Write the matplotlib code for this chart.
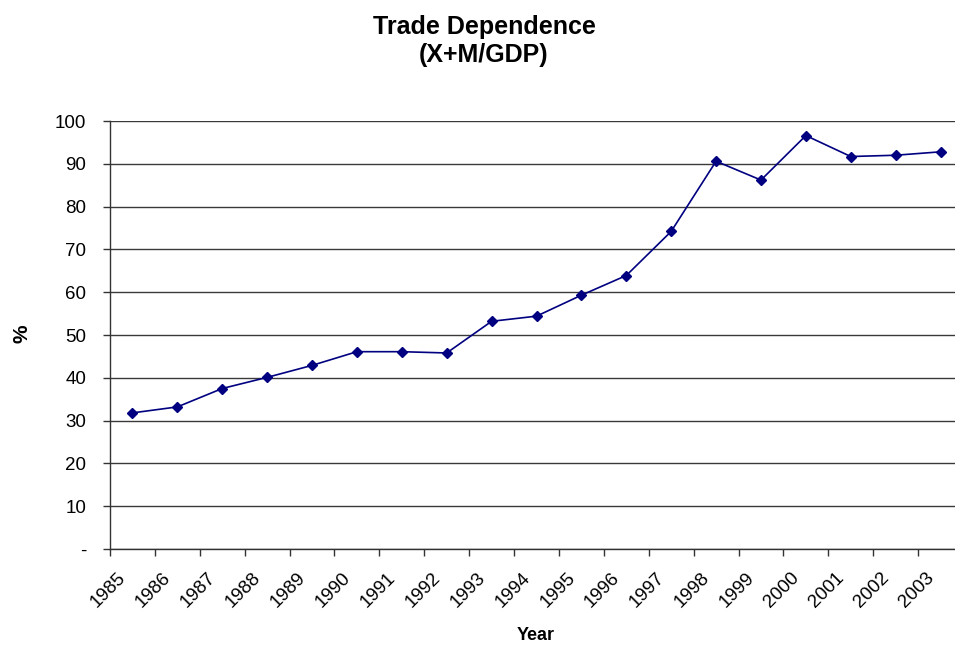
import matplotlib
matplotlib.use("Agg")
import matplotlib.pyplot as plt
import matplotlib.transforms as mtransforms

# Trade dependence (X+M)/GDP, percent
years = ["1985", "1986", "1987", "1988", "1989", "1990", "1991", "1992", "1993", "1994",
         "1995", "1996", "1997", "1998", "1999", "2000", "2001", "2002", "2003"]
trade_pct = [31.8, 33.2, 37.5, 40.1, 42.9, 46.1, 46.1, 45.8, 53.2, 54.4,
             59.3, 63.9, 74.2, 90.6, 86.2, 96.6, 91.7, 92.0, 92.8]
y_ticks = [0, 10, 20, 30, 40, 50, 60, 70, 80, 90, 100]
y_ticklabels = ["-", "10", "20", "30", "40", "50", "60", "70", "80", "90", "100"]

plt.rcParams["font.family"] = ["Liberation Sans", "DejaVu Sans"]

fig = plt.figure(figsize=(9.55, 6.5), dpi=100)
# plot area runs off the right edge, like the cropped original
ax = fig.add_axes([110 / 955, 101 / 650, 853 / 955, 428 / 650])

x = [i + 0.5 for i in range(len(years))]
ax.plot(x, trade_pct, color="#000080", lw=1.2, marker="D", markersize=5,
        markerfacecolor="#000080", markeredgecolor="#000080", clip_on=False, zorder=3)

ax.set_xlim(0, len(years))
ax.set_ylim(0, 100)

# category boundaries get the tick marks, labels sit under the centres
ax.set_xticks(range(len(years) + 1))
ax.set_xticklabels([])
ax.set_xticks(x, minor=True)
ax.set_xticklabels(years, minor=True, rotation=45, ha="right", va="center",
                   rotation_mode="anchor", fontsize=13.5)
ax.tick_params(axis="x", which="major", direction="out", length=5, width=1, color="#333333")
ax.tick_params(axis="x", which="minor", length=0, pad=19)
shift = mtransforms.ScaledTranslation(-9 / 100, 0, fig.dpi_scale_trans)
for lbl in ax.get_xticklabels(minor=True):
    lbl.set_transform(lbl.get_transform() + shift)

ax.set_yticks(y_ticks)
ax.set_yticklabels(y_ticklabels, fontsize=13.5)
ax.tick_params(axis="y", direction="out", length=5, width=1, color="#333333", pad=12)

ax.grid(axis="y", color="#3a3a3a", lw=1.0)
ax.set_axisbelow(True)

for side in ["top", "right"]:
    ax.spines[side].set_visible(False)
ax.spines["left"].set_color("#333333")
ax.spines["bottom"].set_color("#333333")
ax.spines["left"].set_linewidth(1.0)
ax.spines["bottom"].set_linewidth(1.0)

ax.set_xlabel("Year", fontsize=13, fontweight="bold", va="center")
ax.xaxis.set_label_coords(536 / 955, (650 - 635) / 650, transform=fig.transFigure)
fig.text(22 / 955, (650 - 334) / 650, "%", rotation=90, fontsize=15, fontweight="bold",
         ha="center", va="center")

fig.text(484 / 955, (650 - 41) / 650, "Trade Dependence\n(X+M/GDP)", fontsize=18,
         fontweight="bold", ha="center", va="center", linespacing=1.25)

fig.savefig("out.png", dpi=100)
